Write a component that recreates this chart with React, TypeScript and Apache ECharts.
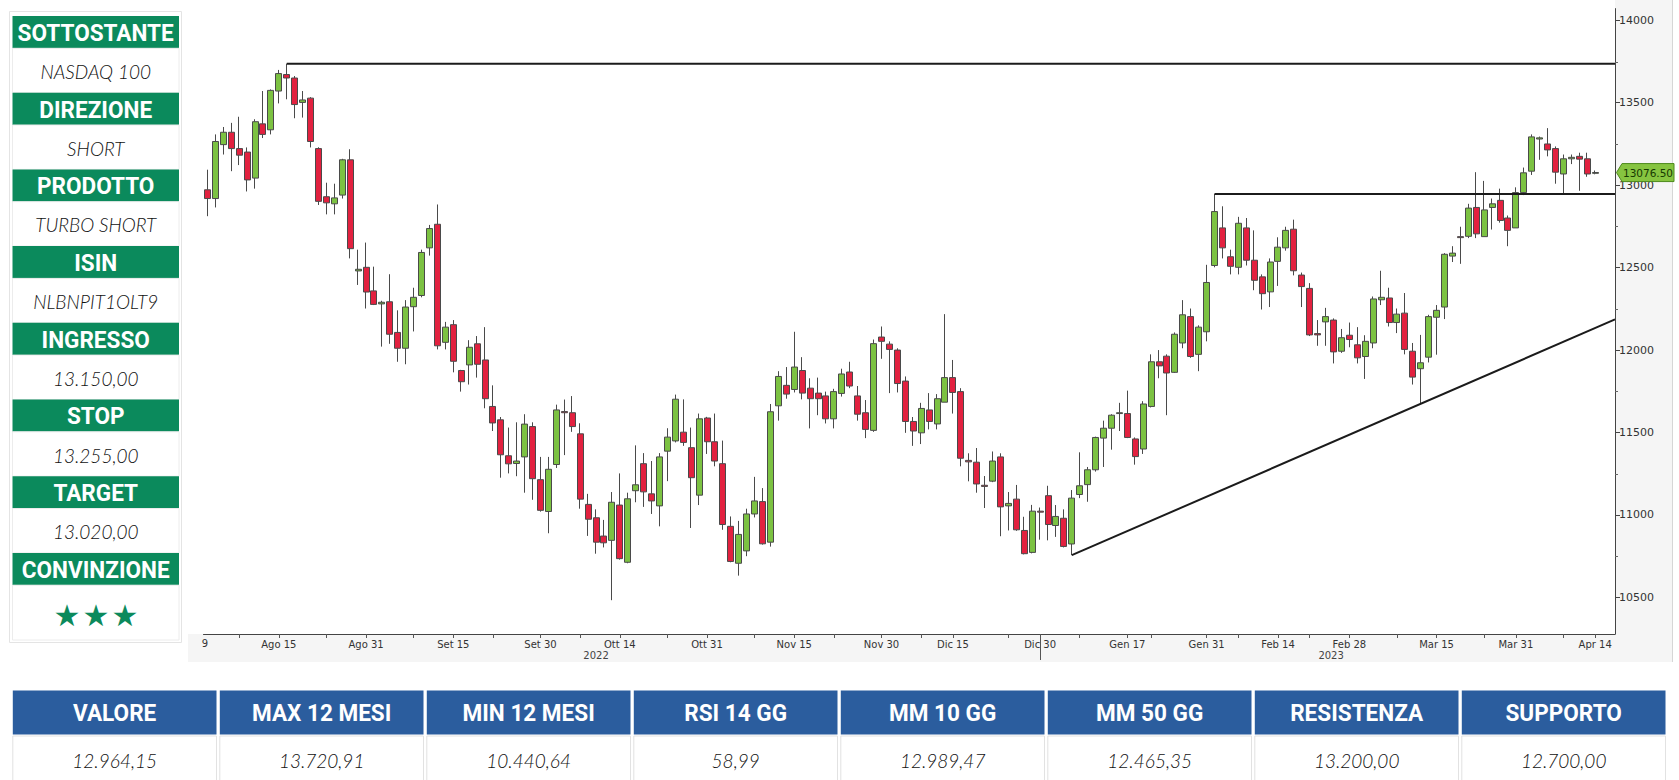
import React, { useEffect, useRef } from 'react';
import * as echarts from 'echarts';

// ---- candle data (NASDAQ 100, daily, from 2 Aug 2022) ----
const opens = [12972,12919,13246,13321,13222,13201,13043,13372,13336,13571,13671,13650,13502,13528,13222,12930,12887,12940,13154,12480,12502,12359,12280,12293,12107,12011,12263,12331,12620,12763,12047,12154,11876,11910,12038,11940,11658,11577,11359,11312,11352,11536,11214,11021,11306,11627,11620,11492,11064,10983,10872,10846,11060,10713,11147,11311,11128,11055,11387,11449,11502,11408,11120,11588,11444,11311,10931,10707,10782,11006,11081,10835,11662,11786,11761,11876,11769,11739,11722,11583,11737,11867,11722,11620,11513,12079,12036,12000,11812,11567,11498,11637,11552,11684,11833,11748,11331,11320,11180,11205,11352,11055,11096,10906,10773,11023,11117,10936,10980,10824,11124,11184,11274,11466,11526,11615,11615,11461,11400,11658,11929,11963,11865,12043,12203,11974,12111,12513,12741,12566,12502,12741,12545,12444,12353,12538,12620,12733,12455,12374,12100,12171,12182,11993,12090,12032,11961,12043,12305,12316,12167,12224,11993,11887,11957,12199,12261,12570,12688,12690,12865,12688,12865,12908,12801,12741,12955,13085,13280,13250,13222,13068,13160,13175,13160,13072];
const closes = [12919,13265,13321,13222,13182,13032,13385,13308,13575,13677,13650,13489,13517,13265,12902,12893,12923,13154,12615,12490,12352,12277,12290,12096,12011,12261,12320,12592,12737,12026,12139,11932,11808,12017,11914,11705,11558,11365,11310,11327,11551,11220,11028,11277,11637,11620,11536,11096,10974,10835,10831,11077,10735,11098,11183,11140,11085,11352,11472,11702,11440,11226,11583,11444,11327,10942,10718,10882,11006,11085,10825,11626,11840,11733,11897,11739,11705,11705,11583,11748,11855,11782,11611,11519,12039,12053,12004,11797,11567,11509,11646,11567,11705,11833,11743,11344,11322,11188,11173,11327,11049,11070,10910,10765,11023,11017,10942,10991,10809,11102,11177,11274,11470,11526,11605,11620,11470,11354,11673,11929,11904,11861,12096,12214,11961,12139,12410,12840,12620,12508,12769,12545,12423,12342,12534,12624,12726,12481,12385,12092,12092,12203,11989,12075,12064,11953,12053,12310,12320,12167,12218,12004,11836,11923,12203,12241,12581,12588,12682,12861,12705,12850,12887,12786,12726,12955,13075,13293,13287,13214,13079,13160,13169,13158,13068,13077];
const lows = [12812,12865,13186,13085,13122,12962,12979,13286,13308,13496,13521,13406,13410,13229,12880,12823,12823,12919,12556,12395,12252,12273,12021,12038,11929,11914,12113,12320,12573,12004,12004,11865,11748,11791,11833,11647,11509,11226,11252,11235,11135,11092,11020,10889,11285,11363,11504,11038,10873,10765,10803,10483,10729,10707,11077,11049,11006,10931,11205,11440,11419,10921,11060,11370,11295,10910,10713,10632,10750,10985,10820,10808,11572,11705,11743,11701,11525,11605,11555,11525,11718,11769,11572,11466,11504,11947,11739,11743,11498,11419,11430,11519,11519,11684,11615,11295,11204,11135,11042,11199,10871,10906,10904,10761,10767,10850,10846,10867,10803,10756,11102,11080,11263,11291,11396,11509,11466,11305,11370,11652,11829,11605,11861,12011,11953,11872,12053,12502,12556,12459,12459,12513,12363,12246,12261,12389,12603,12453,12261,12085,12026,12026,11919,11983,12017,11919,11825,12011,12273,12143,12103,11974,11791,11679,11925,11972,12188,12534,12523,12679,12679,12688,12731,12773,12630,12741,12940,13062,13154,13175,13009,12947,13128,12966,13051,13066];
const highs = [13094,13308,13353,13378,13415,13229,13400,13571,13581,13699,13737,13662,13571,13534,13230,13015,13009,13160,13218,12609,12652,12506,12299,12460,12241,12303,12378,12609,12759,12883,12171,12182,11880,12060,12085,12139,11786,11594,11530,11562,11611,11562,11352,11352,11669,11700,11721,11556,11128,11034,10970,11139,11252,11135,11422,11375,11327,11375,11526,11730,11701,11530,11615,11595,11615,11451,10991,10964,11038,11231,11163,11673,11872,11897,12111,11957,11829,11833,11748,11765,11887,11929,11782,11697,12064,12143,12053,12011,11840,11594,11680,11739,11733,12218,11940,11769,11374,11406,11236,11385,11374,11139,11182,10989,11061,11045,11177,11060,11034,11151,11380,11291,11475,11572,11611,11680,11754,11470,11690,11974,12000,11974,12107,12303,12252,12150,12517,12947,12872,12609,12808,12801,12726,12459,12556,12684,12748,12791,12470,12406,12182,12256,12192,12128,12167,12139,12090,12325,12481,12378,12252,12346,12043,12092,12214,12273,12588,12630,12748,12887,13079,13026,12919,12979,12816,12987,13107,13308,13295,13346,13235,13186,13186,13197,13197,13089];

const FIRST_DAY = '2022-08-02';
const HOLIDAYS = ['2022-09-05', '2022-11-24', '2022-12-26', '2023-01-02', '2023-01-16', '2023-02-20', '2023-04-07'];
const EXTRA_SLOTS = 2;

// x axis labels (category index -> label)
const xLabelIdx = [9, 20, 31, 42, 52, 63, 74, 85, 94, 105, 116, 126, 135, 144, 155, 165, 175];
const xLabelText = ['Ago 15', 'Ago 31', 'Set 15', 'Set 30', 'Ott 14', 'Ott 31', 'Nov 15', 'Nov 30', 'Dic 15', 'Dic 30', 'Gen 17', 'Gen 31', 'Feb 14', 'Feb 28', 'Mar 15', 'Mar 31', 'Apr 14'];
const xExtraTicks = [4, 15, 26, 36, 47, 58, 69, 79, 90, 101, 110, 119, 130, 139, 150, 161, 171];
const yearLabels = ['2022', '2023'];
const yearLabelIdx = [49, 141.7];
const yearSeparatorIdx = 105;

const yMajor = [10500, 11000, 11500, 12000, 12500, 13000, 13500, 14000];
const yMinor = [10750, 11250, 11750, 12250, 12750, 13250, 13750];
const Y_MIN = 10278;
const Y_MAX = 14071;

// drawn lines [index, value]
const highLine = [[10, 13737], [177.5, 13737]];
const resistanceLine = [[127, 12947], [177.5, 12947]];
const trendLine = [[109, 10756], [177.5, 12186]];
const lastPrice = 13076.5;

const infoLabels = ['SOTTOSTANTE', 'DIREZIONE', 'PRODOTTO', 'ISIN', 'INGRESSO', 'STOP', 'TARGET', 'CONVINZIONE'];
const infoValues = ['NASDAQ 100', 'SHORT', 'TURBO SHORT', 'NLBNPIT1OLT9', '13.150,00', '13.255,00', '13.020,00', ''];
const stars = ['★', '★', '★'];

const statLabels = ['VALORE', 'MAX 12 MESI', 'MIN 12 MESI', 'RSI 14 GG', 'MM 10 GG', 'MM 50 GG', 'RESISTENZA', 'SUPPORTO'];
const statValues = ['12.964,15', '13.720,91', '10.440,64', '58,99', '12.989,47', '12.465,35', '13.200,00', '12.700,00'];

function tradingDays(start: string, count: number): string[] {
  const out: string[] = [];
  const d = new Date(start + 'T12:00:00Z');
  while (out.length < count) {
    const dow = d.getUTCDay();
    const iso = d.toISOString().slice(0, 10);
    if (dow !== 0 && dow !== 6 && !HOLIDAYS.includes(iso)) out.push(iso);
    d.setUTCDate(d.getUTCDate() + 1);
  }
  return out;
}

const GREEN = '#0b8a5c';
const BLUE = '#2b5d9e';
const HEAD_FONT = 'Roboto, "Liberation Sans", sans-serif';
const VAL_FONT = 'Lato, "Open Sans", sans-serif';
const AX_FONT = '"DejaVu Sans", sans-serif';

export default function App() {
  const ref = useRef<HTMLDivElement>(null);

  useEffect(() => {
    const el = ref.current!;
    const chart = echarts.init(el, null, { renderer: 'svg' });
    const categories = tradingDays(FIRST_DAY, opens.length + EXTRA_SLOTS);
    const candles = opens.map((o, i) => [o, closes[i], lows[i], highs[i]]);
    const labelMap: Record<number, string> = {};
    xLabelIdx.forEach((k, i) => (labelMap[k] = xLabelText[i]));
    const tickSet = new Set<number>([...xLabelIdx, ...xExtraTicks]);

    chart.setOption({
      animation: false,
      grid: { left: 203.5, top: 8.6, width: 1411.5, height: 625.4, show: false },
      xAxis: [
        {
          type: 'category',
          data: categories,
          boundaryGap: true,
          z: 10,
          axisLine: { show: true, onZero: false, lineStyle: { color: '#444', width: 1 } },
          axisTick: {
            show: true,
            alignWithLabel: true,
            length: 4,
            interval: (i: number) => tickSet.has(i),
            lineStyle: { color: '#555' },
          },
          axisLabel: {
            show: true,
            interval: (i: number) => labelMap[i] !== undefined,
            formatter: (_v: string, i: number) => labelMap[i] ?? '',
            fontFamily: AX_FONT,
            fontSize: 10,
            color: '#333',
            margin: 5,
          },
          splitLine: { show: false },
        },
        {
          type: 'value', min: -0.5, max: 177.5, show: false,
          axisLine: { show: false, onZero: false }, axisTick: { show: false }, axisLabel: { show: false }, splitLine: { show: false },
        },
      ],
      yAxis: [
        {
          type: 'value',
          position: 'right',
          min: Y_MIN,
          max: Y_MAX,
          z: 10,
          axisLine: { show: true, onZero: false, lineStyle: { color: '#444', width: 1 } },
          axisTick: { show: true, length: 5, customValues: yMajor, lineStyle: { color: '#444' } },
          axisLabel: {
            show: true,
            customValues: yMajor,
            formatter: (v: number) => String(v),
            fontFamily: AX_FONT,
            fontSize: 11,
            color: '#333',
            margin: 4,
          },
          splitLine: { show: false },
        },
      ],
      series: [
        {
          type: 'candlestick',
          xAxisIndex: 0,
          yAxisIndex: 0,
          data: candles,
          barWidth: 6.5,
          z: 5,
          itemStyle: {
            color: '#7cc242',
            color0: '#e2213f',
            borderColor: '#4a4a4a',
            borderColor0: '#4a4a4a',
            borderWidth: 1,
          },
        },
        {
          type: 'line', xAxisIndex: 1, yAxisIndex: 0, data: highLine, symbol: 'none', silent: true, z: 6,
          lineStyle: { color: '#1b1b1b', width: 2 },
        },
        {
          type: 'line', xAxisIndex: 1, yAxisIndex: 0, data: resistanceLine, symbol: 'none', silent: true, z: 6,
          lineStyle: { color: '#1b1b1b', width: 2 },
        },
        {
          type: 'line', xAxisIndex: 1, yAxisIndex: 0, data: trendLine, symbol: 'none', silent: true, z: 6,
          lineStyle: { color: '#1b1b1b', width: 2 },
        },
      ],
    });

    const px = (x: number) => chart.convertToPixel({ xAxisIndex: 1 }, x) as number;
    const py = (v: number) => chart.convertToPixel({ yAxisIndex: 0 }, v) as number;

    const g: any[] = [];
    // chart panel backgrounds: right axis band and bottom label band
    g.push({ type: 'rect', z: -10, silent: true, shape: { x: 1615, y: 0, width: 57, height: 662 }, style: { fill: '#f5f5f5' } });
    g.push({ type: 'rect', z: -10, silent: true, shape: { x: 188, y: 634, width: 1427, height: 28 }, style: { fill: '#f5f5f5' } });
    g.push({ type: 'line', z: -9, silent: true, shape: { x1: 1672.5, y1: 0, x2: 1672.5, y2: 662 }, style: { stroke: '#d6d6d6', lineWidth: 1 } });

    // minor ticks on the price axis
    yMinor.forEach((v) => {
      const y = Math.round(py(v)) + 0.5;
      g.push({ type: 'line', z: 12, silent: true, shape: { x1: 1615, y1: y, x2: 1618, y2: y }, style: { stroke: '#666', lineWidth: 1 } });
    });

    // year labels and separator
    yearLabels.forEach((t, i) => {
      g.push({ type: 'text', z: 20, x: px(yearLabelIdx[i]), y: 655, style: { text: t, fontFamily: AX_FONT, fontSize: 10, fill: '#444', textAlign: 'center', verticalAlign: 'middle', textVerticalAlign: 'middle' } });
    });
    const sepX = Math.round(px(yearSeparatorIdx)) + 0.5;
    g.push({ type: 'line', z: 20, shape: { x1: sepX, y1: 634, x2: sepX, y2: 660 }, style: { stroke: '#555', lineWidth: 1 } });
    g.push({ type: 'text', z: 20, x: 205, y: 643.5, style: { text: '9', fontFamily: AX_FONT, fontSize: 10, fill: '#333', textAlign: 'center', verticalAlign: 'middle', textVerticalAlign: 'middle' } });

    // last price tag
    const ty = py(lastPrice);
    g.push({
      type: 'polygon', z: 30,
      shape: { points: [[1616.5, ty], [1622, ty - 9], [1674, ty - 9], [1674, ty + 9], [1622, ty + 9]] },
      style: { fill: '#86c440', stroke: '#4d8a1c', lineWidth: 1 },
    });
    g.push({ type: 'text', z: 31, x: 1648, y: ty, style: { text: lastPrice.toFixed(2), fontFamily: AX_FONT, fontSize: 10.5, fill: '#173a00', textAlign: 'center', verticalAlign: 'middle', textVerticalAlign: 'middle' } });

    // left info panel
    g.push({ type: 'rect', z: 1, shape: { x: 9.5, y: 11.5, width: 172, height: 631 }, style: { fill: '#fff', stroke: '#e4e4e4', lineWidth: 1 } });
    const step = 76.7;
    infoLabels.forEach((lab, k) => {
      const hy = 16 + k * step;
      g.push({ type: 'rect', z: 2, shape: { x: 12.5, y: hy, width: 166.5, height: 32.3 }, style: { fill: GREEN } });
      g.push({ type: 'text', z: 3, x: 95.7, y: hy + 16.6, scaleX: 0.94, style: { text: lab, fontFamily: HEAD_FONT, fontWeight: 'bold', fontSize: 24, fill: '#fff', textAlign: 'center', verticalAlign: 'middle', textVerticalAlign: 'middle' } });
      const cellH = k === infoLabels.length - 1 ? 640 - (hy + 32.3) : 44.4;
      g.push({ type: 'rect', z: 2, shape: { x: 12.5, y: hy + 32.3, width: 166.5, height: cellH }, style: { fill: '#fff', stroke: '#ececec', lineWidth: 1 } });
      if (infoValues[k]) {
        g.push({ type: 'text', z: 3, x: 95.7, y: hy + 55.5, style: { text: infoValues[k], fontFamily: VAL_FONT, fontStyle: 'italic', fontWeight: 300, fontSize: 19, fill: '#111', textAlign: 'center', verticalAlign: 'middle', textVerticalAlign: 'middle' } });
      }
    });
    stars.forEach((s, i) => {
      g.push({ type: 'text', z: 3, x: 67 + i * 29, y: 615, style: { text: s, fontFamily: AX_FONT, fontSize: 30, fill: GREEN, textAlign: 'center', verticalAlign: 'middle', textVerticalAlign: 'middle' } });
    });

    // bottom statistics table
    statLabels.forEach((lab, i) => {
      const x = 12.8 + i * 207.0;
      const w = 203.7;
      g.push({ type: 'rect', z: 2, shape: { x, y: 690.6, width: w, height: 44 }, style: { fill: BLUE } });
      g.push({ type: 'text', z: 3, x: x + w / 2, y: 713, scaleX: 0.94, style: { text: lab, fontFamily: HEAD_FONT, fontWeight: 'bold', fontSize: 24, fill: '#fff', textAlign: 'center', verticalAlign: 'middle', textVerticalAlign: 'middle' } });
      g.push({ type: 'rect', z: 2, shape: { x, y: 736, width: w, height: 52 }, style: { fill: '#fff', stroke: '#e2e2e2', lineWidth: 1 } });
      g.push({ type: 'text', z: 3, x: x + w / 2, y: 760, style: { text: statValues[i], fontFamily: VAL_FONT, fontStyle: 'italic', fontWeight: 300, fontSize: 19, fill: '#111', textAlign: 'center', verticalAlign: 'middle', textVerticalAlign: 'middle' } });
    });

    chart.setOption({ graphic: g });
    return () => chart.dispose();
  }, []);

  return (
    <div
      ref={ref}
      style={{ position: 'fixed', left: 0, top: 0, width: 1679, height: 780, background: '#ffffff' }}
    />
  );
}
